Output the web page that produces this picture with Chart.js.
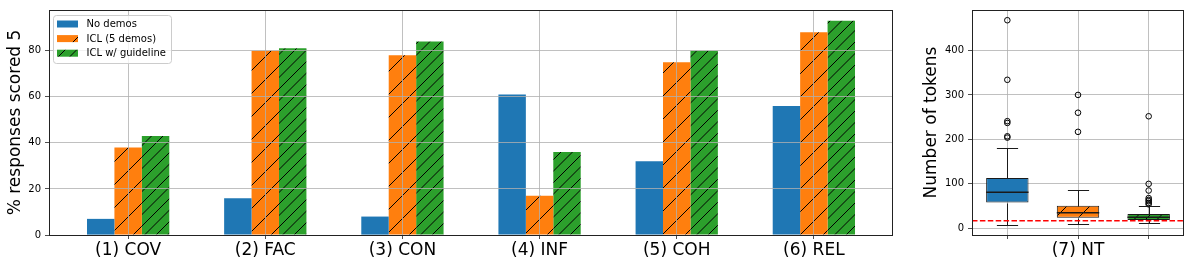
<!DOCTYPE html>
<html><head><meta charset="utf-8">
<script src="https://cdn.jsdelivr.net/npm/chart.js@4/dist/chart.umd.min.js"></script>
<style>
html,body{margin:0;padding:0;background:#fff;width:1196px;height:268px;overflow:hidden}
canvas{position:absolute;top:0}
#left{left:0}
#right{left:905px}
</style></head><body>
<canvas id="left" width="905" height="268"></canvas>
<canvas id="right" width="291" height="268"></canvas>
<script>
// ---------- data ----------
const categories = ['(1) COV', '(2) FAC', '(3) CON', '(4) INF', '(5) COH', '(6) REL'];
const seriesNames = ['No demos', 'ICL (5 demos)', 'ICL w/ guideline'];
const noDemos = [7, 16, 8, 61, 32, 56];
const icl5 = [38, 80, 78, 17, 75, 88];
const iclGuideline = [43, 81, 84, 36, 80, 93];
const pctTicks = [0, 20, 40, 60, 80];

const ntLabels = ['', '(7) NT', ''];
const ntWhiskerLow = [8, 10, 12];
const ntQ1 = [58, 24, 19];
const ntMedian = [81, 35, 25];
const ntQ3 = [113, 51, 32];
const ntWhiskerHigh = [180, 86, 51];
const ntOutliers = [
  [204, 207, 237, 241, 334, 468],
  [217, 260, 300],
  [54, 57, 61, 64, 68, 85, 100, 252]
];
const tokenTicks = [0, 100, 200, 300, 400];
const tokenThreshold = 17;

// ---------- styles ----------
const FONT = 'DejaVu Sans';
Chart.defaults.font.family = FONT;
Chart.defaults.color = '#000';
const BLUE = '#1f77b4', ORANGE = '#ff7f0e', GREEN = '#2ca02c';
const GRID = '#b0b0b0';
const SPINE = '#222';

function makePattern(ctx, color, n) {
  const T = 23;
  const c = document.createElement('canvas');
  c.width = T; c.height = T;
  const g = c.getContext('2d');
  g.fillStyle = color; g.fillRect(0, 0, T, T);
  g.strokeStyle = '#000'; g.lineWidth = 1;
  g.beginPath();
  for (let k = -n; k <= n; k++) {
    const x0 = k * T / n;
    g.moveTo(x0, T); g.lineTo(x0 + T, 0);
  }
  g.stroke();
  return ctx.createPattern(c, 'repeat');
}

const framePlugin = {
  id: 'frame',
  afterDraw(chart) {
    const {ctx, chartArea: a} = chart;
    ctx.save();
    ctx.strokeStyle = SPINE; ctx.lineWidth = 1;
    ctx.strokeRect(Math.round(a.left) + 0.5, Math.round(a.top) + 0.5,
                   Math.round(a.right - a.left) - 1, Math.round(a.bottom - a.top));
    ctx.restore();
  }
};

const legendPlugin = {
  id: 'insideLegend',
  afterDraw(chart) {
    const {ctx, chartArea: a} = chart;
    const x = a.left + 4, y = a.top + 5, w = 118, h = 48, r = 3;
    ctx.save();
    ctx.beginPath();
    ctx.roundRect(x + 0.5, y + 0.5, w, h, r);
    ctx.fillStyle = 'rgba(255,255,255,0.8)';
    ctx.fill();
    ctx.strokeStyle = '#cccccc'; ctx.lineWidth = 1;
    ctx.stroke();
    ctx.font = '10px "' + FONT + '"';
    ctx.textBaseline = 'middle';
    chart.data.datasets.forEach((ds, i) => {
      const cy = y + 9 + i * 14.6;
      ctx.fillStyle = ds.backgroundColor;
      ctx.fillRect(x + 4, cy - 3.5, 21, 7);
      ctx.fillStyle = '#000';
      ctx.fillText(ds.label, x + 33.5, cy + 0.5);
    });
    ctx.restore();
  }
};

// ---------- left chart ----------
const lctx = document.getElementById('left').getContext('2d');
new Chart(lctx, {
  type: 'bar',
  data: {
    datasets: [
      {label: seriesNames[0], data: noDemos.map((v, i) => ({x: i, y: v})), backgroundColor: BLUE},
      {label: seriesNames[1], data: icl5.map((v, i) => ({x: i, y: v})), backgroundColor: makePattern(lctx, ORANGE, 1)},
      {label: seriesNames[2], data: iclGuideline.map((v, i) => ({x: i, y: v})), backgroundColor: makePattern(lctx, GREEN, 2)}
    ]
  },
  options: {
    responsive: false, animation: false, devicePixelRatio: 1,
    layout: {padding: {left: 0, right: 12, top: 10, bottom: 0}},
    plugins: {legend: {display: false}, tooltip: {enabled: false}},
    datasets: {bar: {categoryPercentage: 0.6, barPercentage: 1.0, borderWidth: 0}},
    scales: {
      x: {
        type: 'linear', min: -0.577, max: 5.577, offset: false,
        afterBuildTicks: s => { s.ticks = categories.map((c, i) => ({value: i})); },
        afterFit: s => { s.height = 33; },
        ticks: {callback: (v) => categories[v], font: {size: 17}, color: '#000', padding: 1.5, maxRotation: 0, autoSkip: false},
        grid: {offset: false, color: GRID, lineWidth: 0.8, z: 1, tickColor: SPINE, tickLength: 4},
        border: {display: false}
      },
      y: {
        min: 0, max: 97.65,
        afterBuildTicks: s => { s.ticks = pctTicks.map(v => ({value: v})); },
        afterFit: s => { s.width = 49; },
        ticks: {font: {size: 10}, padding: 4, color: '#000'},
        grid: {color: GRID, lineWidth: 0.8, z: 1, tickColor: SPINE, tickLength: 4},
        border: {display: false},
        title: {display: true, text: '% responses scored 5', font: {size: 17}, padding: {top: 5, bottom: 0}}
      }
    }
  },
  plugins: [framePlugin, legendPlugin]
});

// ---------- right chart (box plot) ----------
const rctx = document.getElementById('right').getContext('2d');
const boxPlugin = {
  id: 'boxParts',
  afterDatasetsDraw(chart) {
    const {ctx, scales: {x, y}, chartArea: a} = chart;
    const meta = chart.getDatasetMeta(0);
    ctx.save();
    ctx.strokeStyle = '#1a1a1a'; ctx.lineWidth = 1;
    meta.data.forEach((bar, i) => {
      const cx = Math.round(x.getPixelForValue(i + 1)) + 0.5;
      const half = bar.width / 2;
      const cap = half / 2;
      const py = v => Math.round(y.getPixelForValue(v)) + 0.5;
      ctx.beginPath();
      ctx.moveTo(cx, py(ntQ3[i])); ctx.lineTo(cx, py(ntWhiskerHigh[i]));
      ctx.moveTo(cx, py(ntQ1[i])); ctx.lineTo(cx, py(ntWhiskerLow[i]));
      ctx.moveTo(cx - cap, py(ntWhiskerHigh[i])); ctx.lineTo(cx + cap, py(ntWhiskerHigh[i]));
      ctx.moveTo(cx - cap, py(ntWhiskerLow[i])); ctx.lineTo(cx + cap, py(ntWhiskerLow[i]));
      ctx.stroke();
      ctx.beginPath();
      ctx.lineWidth = 1.5;
      ctx.moveTo(bar.x - half, y.getPixelForValue(ntMedian[i]));
      ctx.lineTo(bar.x + half, y.getPixelForValue(ntMedian[i]));
      ctx.stroke();
      ctx.lineWidth = 1;
    });
    // threshold line
    ctx.beginPath();
    ctx.strokeStyle = '#ff0000'; ctx.lineWidth = 1.5;
    ctx.setLineDash([5.5, 2.4]);
    const ty = y.getPixelForValue(tokenThreshold);
    ctx.moveTo(a.left, ty); ctx.lineTo(a.right, ty);
    ctx.stroke();
    ctx.restore();
  }
};

new Chart(rctx, {
  type: 'bar',
  data: {
    datasets: [
      {
        label: 'box',
        data: ntQ1.map((q, i) => ({x: i + 1, y: [q, ntQ3[i]]})),
        backgroundColor: [BLUE, makePattern(rctx, ORANGE, 1), makePattern(rctx, GREEN, 2)],
        borderColor: '#1a1a1a', borderWidth: 1, borderSkipped: false,
        categoryPercentage: 0.6, barPercentage: 1.0
      },
      {
        type: 'scatter', label: 'outliers',
        data: ntOutliers.flatMap((arr, i) => arr.map(v => ({x: i + 1, y: v}))),
        pointRadius: 2.8, pointBackgroundColor: 'rgba(0,0,0,0)', pointBorderColor: '#000',
        pointBorderWidth: 1, showLine: false
      }
    ]
  },
  options: {
    responsive: false, animation: false, devicePixelRatio: 1,
    layout: {padding: {left: 0, right: 12, top: 10, bottom: 0}},
    plugins: {legend: {display: false}, tooltip: {enabled: false}},
    scales: {
      x: {
        type: 'linear', min: 0.5, max: 3.5, offset: false,
        afterBuildTicks: s => { s.ticks = ntLabels.map((c, i) => ({value: i + 1})); },
        afterFit: s => { s.height = 33; },
        ticks: {callback: (v) => ntLabels[v - 1], font: {size: 17}, color: '#000', padding: 1.5, maxRotation: 0, autoSkip: false},
        grid: {offset: false, color: GRID, lineWidth: 0.8, tickColor: SPINE, tickLength: 4},
        border: {display: false}
      },
      y: {
        min: -15, max: 491,
        afterBuildTicks: s => { s.ticks = tokenTicks.map(v => ({value: v})); },
        afterFit: s => { s.width = 67; },
        ticks: {font: {size: 10}, padding: 4, color: '#000'},
        grid: {color: GRID, lineWidth: 0.8, tickColor: SPINE, tickLength: 4},
        border: {display: false},
        title: {display: true, text: 'Number of tokens', font: {size: 17}, padding: {top: 16.5, bottom: 0}}
      }
    }
  },
  plugins: [boxPlugin, framePlugin]
});
</script>
</body></html>
